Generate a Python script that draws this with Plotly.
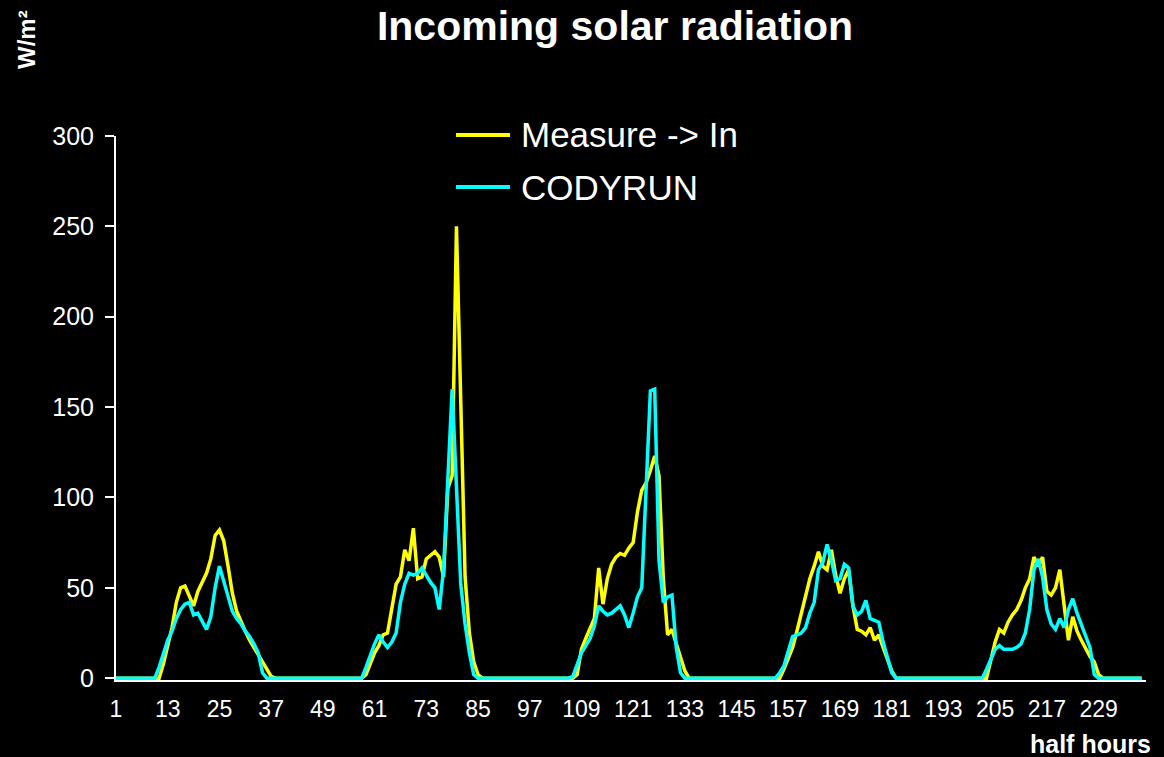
import plotly.graph_objects as go

# half-hour index 1..239
half_hours = list(range(1, 240))

measure_in = [
    0, 0, 0, 0, 0, 0, 0, 0, 0, 0, 0, 8,
    19, 28, 42, 50, 51, 46, 40, 48, 53, 58, 66, 79,
    82, 76, 62, 47, 37, 31, 26, 21, 17, 13, 9, 5,
    1, 0, 0, 0, 0, 0, 0, 0, 0, 0, 0, 0,
    0, 0, 0, 0, 0, 0, 0, 0, 0, 0, 2, 8,
    14, 18, 24, 25, 40, 52, 56, 71, 65, 83, 55, 56,
    66, 68, 70, 67, 56, 105, 112, 250, 150, 56, 25, 9,
    2, 0, 0, 0, 0, 0, 0, 0, 0, 0, 0, 0,
    0, 0, 0, 0, 0, 0, 0, 0, 0, 0, 0, 2,
    16, 22, 27, 33, 61, 41, 55, 63, 67, 69, 68, 72,
    75, 92, 104, 108, 115, 123, 112, 55, 24, 27, 19, 12,
    4, 0, 0, 0, 0, 0, 0, 0, 0, 0, 0, 0,
    0, 0, 0, 0, 0, 0, 0, 0, 0, 0, 0, 5,
    11, 17, 26, 36, 45, 55, 62, 70, 62, 60, 71, 57,
    47, 55, 60, 40, 27, 26, 24, 28, 21, 24, 17, 11,
    4, 0, 0, 0, 0, 0, 0, 0, 0, 0, 0, 0,
    0, 0, 0, 0, 0, 0, 0, 0, 0, 0, 0, 10,
    20, 27, 25, 31, 35, 38, 43, 50, 55, 67, 62, 67,
    48, 46, 50, 60, 40, 21, 34, 26, 21, 16, 12, 9,
    2, 0, 0, 0, 0, 0, 0, 0, 0, 0, 0,
]

codyrun = [
    0, 0, 0, 0, 0, 0, 0, 0, 0, 0, 6, 14,
    21, 26, 33, 38, 41, 42, 35, 36, 31, 27, 34, 50,
    62, 54, 45, 37, 33, 30, 26, 23, 19, 14, 3, 0,
    0, 0, 0, 0, 0, 0, 0, 0, 0, 0, 0, 0,
    0, 0, 0, 0, 0, 0, 0, 0, 0, 0, 6, 13,
    19, 24, 20, 17, 20, 25, 42, 52, 58, 57, 58, 61,
    57, 53, 50, 38, 60, 106, 160, 106, 52, 30, 14, 2,
    0, 0, 0, 0, 0, 0, 0, 0, 0, 0, 0, 0,
    0, 0, 0, 0, 0, 0, 0, 0, 0, 0, 1, 8,
    14, 18, 22, 29, 40, 37, 35, 36, 38, 40, 35, 28,
    36, 45, 50, 100, 159, 160, 65, 42, 45, 46, 17, 3,
    0, 0, 0, 0, 0, 0, 0, 0, 0, 0, 0, 0,
    0, 0, 0, 0, 0, 0, 0, 0, 0, 0, 3, 7,
    15, 23, 24, 25, 28, 36, 42, 60, 64, 74, 65, 54,
    55, 63, 61, 40, 35, 37, 43, 33, 32, 31, 20, 11,
    3, 0, 0, 0, 0, 0, 0, 0, 0, 0, 0, 0,
    0, 0, 0, 0, 0, 0, 0, 0, 0, 0, 5, 10,
    16, 18, 16, 16, 16, 17, 19, 25, 38, 60, 66, 56,
    38, 30, 27, 33, 28, 38, 44, 36, 30, 24, 17, 2,
    0, 0, 0, 0, 0, 0, 0, 0, 0, 0, 0,
]

x_ticks = list(range(1, 230, 12))
y_ticks = [0, 50, 100, 150, 200, 250, 300]

W, H = 1164, 757
L, R, T, B = 116, 18, 136, 77
FONT = 'Liberation Sans, Arial, sans-serif'


def px(x):
    return (x - L) / (W - L - R)


def py(y):
    return (H - B - y) / (H - T - B)


fig = go.Figure()

fig.add_trace(go.Scatter(
    x=half_hours, y=measure_in, mode='lines', name='Measure -> In',
    line=dict(color='#ffff00', width=3.5)
))
fig.add_trace(go.Scatter(
    x=half_hours, y=codyrun, mode='lines', name='CODYRUN',
    line=dict(color='#00ffff', width=3.5)
))

# legend drawn by hand to match the original placement
legend_items = [('Measure -> In', '#ffff00', 135), ('CODYRUN', '#00ffff', 187)]
shapes = []
annotations = []
for label, color, ypix in legend_items:
    shapes.append(dict(type='line', xref='paper', yref='paper',
                       x0=px(456), x1=px(510), y0=py(ypix), y1=py(ypix),
                       line=dict(color=color, width=4)))
    annotations.append(dict(text=label, xref='paper', yref='paper',
                            x=px(519), y=py(ypix), xanchor='left', yanchor='middle',
                            showarrow=False, font=dict(size=35, color='white', family=FONT)))

annotations.append(dict(text='<b>W/m²</b>', xref='paper', yref='paper',
                        x=px(27), y=py(40), xanchor='center', yanchor='middle',
                        textangle=-90, showarrow=False,
                        font=dict(size=24, color='white', family=FONT)))
annotations.append(dict(text='<b>half hours</b>', xref='paper', yref='paper',
                        x=px(1153), y=py(744), xanchor='right', yanchor='middle',
                        showarrow=False, font=dict(size=25, color='white', family=FONT)))

fig.update_layout(
    width=W, height=H,
    paper_bgcolor='black', plot_bgcolor='black',
    margin=dict(l=L, r=R, t=T, b=B),
    title=dict(text='<b>Incoming solar radiation</b>', x=615 / W, xanchor='center',
               y=1 - 26 / H, yanchor='middle',
               font=dict(size=41, color='white', family=FONT)),
    showlegend=False,
    shapes=shapes,
    annotations=annotations,
    xaxis=dict(range=[1, 240], tickvals=x_ticks, ticks='', showgrid=False,
               zeroline=False, showline=True, linecolor='white', linewidth=2,
               ticklabelstandoff=7,
               tickfont=dict(size=23, color='white', family=FONT)),
    yaxis=dict(range=[-1, 300], tickvals=y_ticks, ticks='outside', ticklen=9,
               tickwidth=2, tickcolor='white', showgrid=False, zeroline=False,
               showline=True, linecolor='white', linewidth=2,
               ticklabelstandoff=6,
               tickfont=dict(size=25, color='white', family=FONT)),
)

fig.write_html("out.html", config={'displayModeBar': False},
               post_script="document.body.style.margin='0';")
